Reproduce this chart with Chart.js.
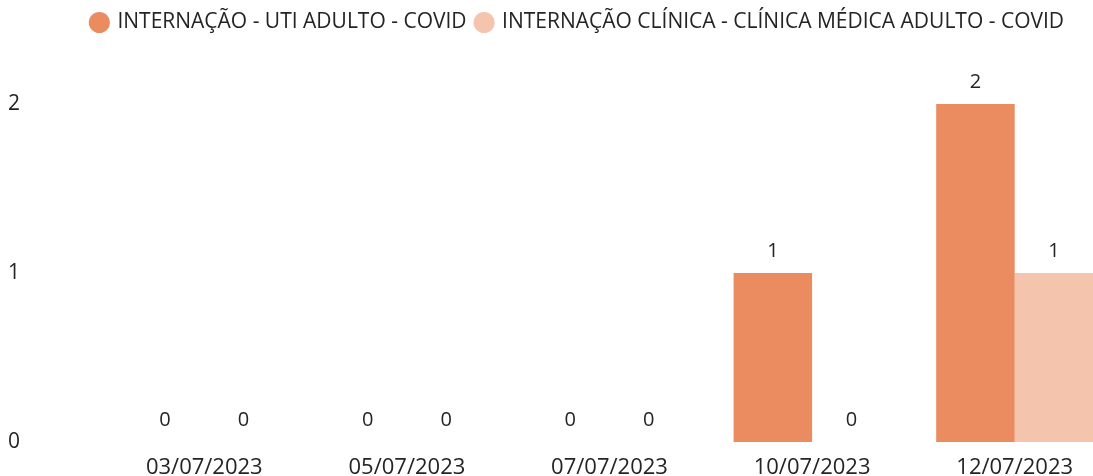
<!DOCTYPE html>
<html lang="pt">
<head>
    <meta charset="UTF-8">
    <title>Internações COVID</title>
    <script src="https://cdn.jsdelivr.net/npm/chart.js"></script>
    <style>
        html, body {
            margin: 0;
            padding: 0;
            background: #fff;
            overflow: hidden;
        }
    </style>
</head>
<body>

<canvas id="covidChart" width="1154" height="476"></canvas>

<script>
    const categories = ['03/07/2023', '05/07/2023', '07/07/2023', '10/07/2023', '12/07/2023'];
    const utiAdulto = [0, 0, 0, 1, 2];
    const clinicaMedica = [0, 0, 0, 0, 1];
    const yTicks = [0, 1, 2];

    const textColor = '#252423';
    const fontFamily = '"Open Sans", "Noto Sans", sans-serif';

    // value labels above each bar
    const barLabels = {
        id: 'barLabels',
        afterDatasetsDraw(chart) {
            const ctx = chart.ctx;
            ctx.save();
            ctx.font = '20px ' + fontFamily;
            ctx.fillStyle = textColor;
            ctx.textAlign = 'center';
            ctx.textBaseline = 'alphabetic';
            chart.data.datasets.forEach((ds, i) => {
                chart.getDatasetMeta(i).data.forEach((bar, j) => {
                    ctx.fillText(String(ds.data[j]), bar.x, bar.y - 16);
                });
            });
            ctx.restore();
        }
    };

    // taller legend box so the plot starts lower, nudged to sit over the visible part
    const legendBox = {
        id: 'legendBox',
        beforeInit(chart) {
            const fit = chart.legend.fit;
            chart.legend.fit = function () {
                fit.call(this);
                this.height = 104;
            };
        },
        afterLayout(chart) {
            chart.legend.left += 16;
            chart.legend.right += 16;
            chart.legend.top += 2;
        }
    };

    const ctx = document.getElementById('covidChart').getContext('2d');
    const chart = new Chart(ctx, {
        type: 'bar',
        data: {
            labels: categories,
            datasets: [{
                label: 'INTERNAÇÃO - UTI ADULTO - COVID',
                data: utiAdulto,
                backgroundColor: '#EB8B60'
            }, {
                label: 'INTERNAÇÃO CLÍNICA - CLÍNICA MÉDICA ADULTO - COVID',
                data: clinicaMedica,
                backgroundColor: '#F4C4AD'
            }]
        },
        options: {
            responsive: false,
            animation: false,
            layout: {
                padding: { left: 8, right: 38, top: 0, bottom: 0 }
            },
            datasets: {
                bar: {
                    categoryPercentage: 0.775,
                    barPercentage: 1.0
                }
            },
            scales: {
                x: {
                    grid: { display: false },
                    border: { display: false },
                    ticks: {
                        color: textColor,
                        font: { family: fontFamily, size: 22 },
                        padding: 5,
                        maxRotation: 0
                    },
                    afterFit(axis) { axis.height = 34; }
                },
                y: {
                    min: 0,
                    max: 2,
                    grid: { display: false, drawTicks: false },
                    border: { display: false },
                    afterBuildTicks(axis) {
                        axis.ticks = yTicks.map(v => ({ value: v }));
                    },
                    ticks: {
                        color: textColor,
                        font: { family: fontFamily, size: 21 },
                        crossAlign: 'far',
                        padding: 2
                    },
                    afterFit(axis) { axis.width = 95; }
                }
            },
            plugins: {
                legend: {
                    position: 'top',
                    labels: {
                        color: textColor,
                        font: { family: fontFamily, size: 21 },
                        usePointStyle: true,
                        pointStyle: 'circle',
                        boxWidth: 15,
                        boxHeight: 15,
                        padding: 10
                    }
                },
                tooltip: { enabled: false }
            }
        },
        plugins: [barLabels, legendBox]
    });
</script>

</body>
</html>
